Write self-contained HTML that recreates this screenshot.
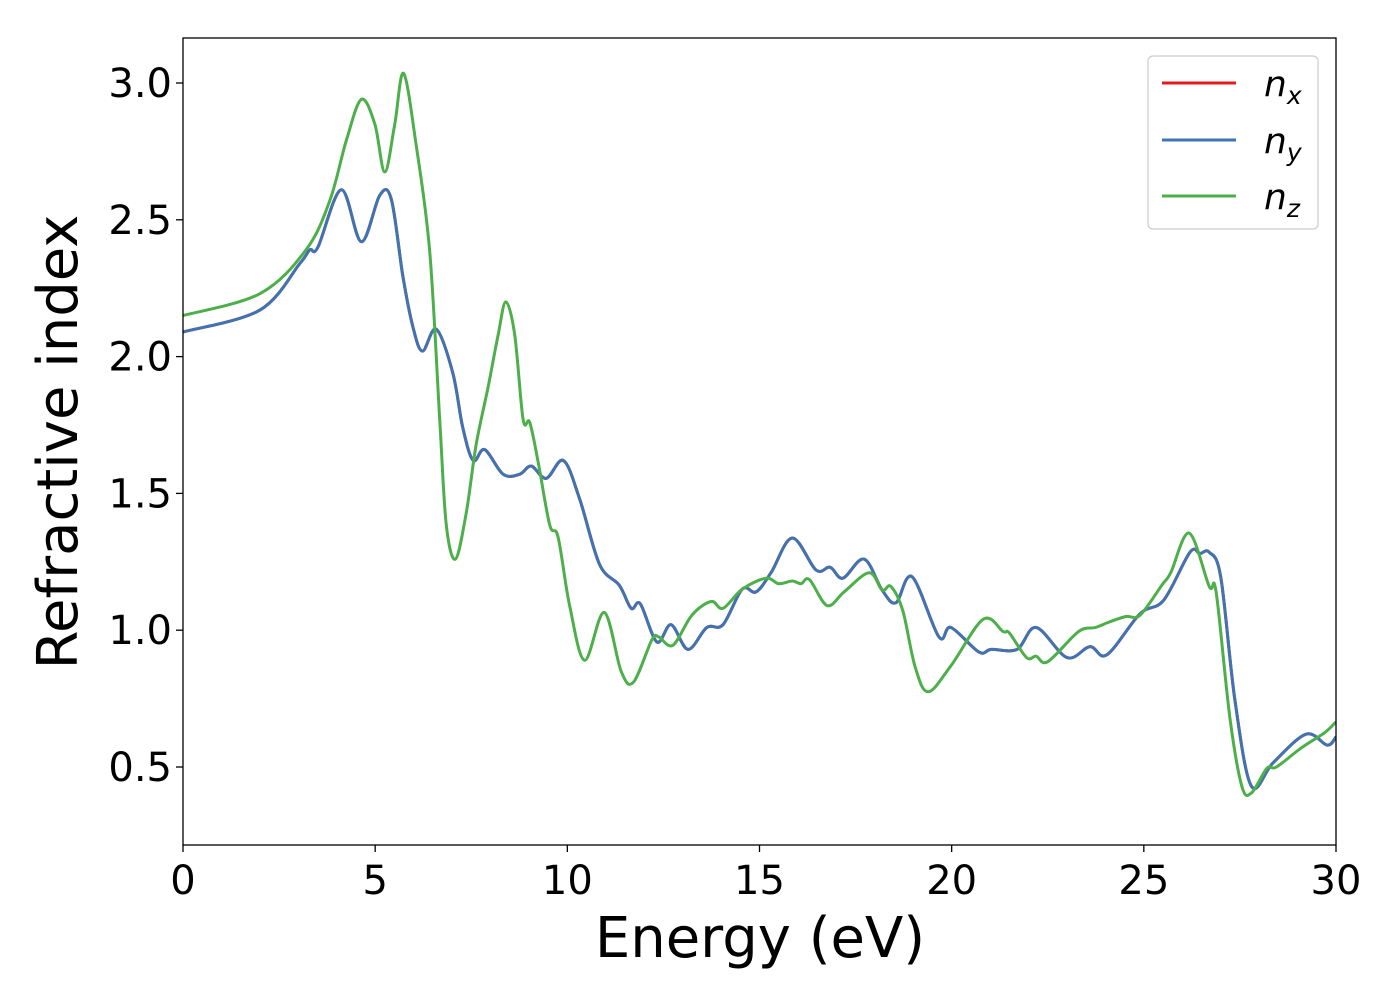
<!DOCTYPE html>
<html><head><meta charset="utf-8"><style>
html,body{margin:0;padding:0;background:#fff;}
svg{display:block;font-family:"DejaVu Sans","Liberation Sans",sans-serif;}
</style></head><body>
<svg id="chart" width="1400" height="1000" viewBox="0 0 1400 1000">
<rect x="0" y="0" width="1400" height="1000" fill="#fff"/>
<g id="series"></g>
<g id="axes"></g>
<text x="760" y="957" font-size="56" text-anchor="middle">Energy (eV)</text>
<text transform="translate(77,442) rotate(-90)" font-size="56" text-anchor="middle">Refractive index</text>
<g>
<rect x="1148" y="56" width="170" height="173" rx="5" fill="#fff" stroke="#ccc" stroke-width="1.2"/>
<g><line x1="1162" y1="83" x2="1236" y2="83" stroke="#e41a1c" stroke-width="3"/><text x="1264" y="96" font-size="36" font-style="italic">n<tspan font-size="25" dy="8">x</tspan></text></g>
<g><line x1="1162" y1="140" x2="1236" y2="140" stroke="#3f74b2" stroke-width="3"/><text x="1264" y="153" font-size="36" font-style="italic">n<tspan font-size="25" dy="8">y</tspan></text></g>
<g><line x1="1162" y1="196" x2="1236" y2="196" stroke="#4daf4a" stroke-width="3"/><text x="1264" y="209" font-size="36" font-style="italic">n<tspan font-size="25" dy="8">z</tspan></text></g>
</g>
</svg>
<script>
const xTicks=[0,5,10,15,20,25,30];
const yTicks=[0.5,1.0,1.5,2.0,2.5,3.0];
const yTickLabels=["0.5","1.0","1.5","2.0","2.5","3.0"];
const nxyE=[0,2,3.04,3.3,3.51,4.12,4.64,5.12,5.42,5.72,5.98,6.23,6.59,7.02,7.28,7.55,7.85,8.33,8.76,9.06,9.45,9.9,10.32,10.84,11.35,11.66,11.9,12.33,12.7,13.14,13.63,14.05,14.55,14.91,15.3,15.85,16.47,16.84,17.17,17.72,18.19,18.55,18.97,19.67,19.98,20.71,21.03,21.7,22.2,23.0,23.6,24.04,24.9,25.52,26.2,26.46,26.7,27.0,27.37,27.8,28.36,29.22,29.77,30];
const nxyV=[2.09,2.17,2.34,2.39,2.40,2.61,2.42,2.59,2.575,2.295,2.11,2.02,2.10,1.94,1.74,1.62,1.66,1.57,1.57,1.60,1.555,1.62,1.48,1.24,1.165,1.08,1.096,0.957,1.02,0.93,1.01,1.02,1.15,1.14,1.21,1.337,1.22,1.23,1.19,1.26,1.147,1.10,1.195,0.975,1.01,0.92,0.93,0.93,1.01,0.90,0.94,0.91,1.06,1.11,1.285,1.28,1.285,1.195,0.745,0.43,0.515,0.62,0.58,0.61];
const nzE=[0,2,3.2,3.82,4.25,4.64,4.99,5.25,5.51,5.74,6.07,6.42,6.68,6.85,7.09,7.37,7.63,7.94,8.2,8.4,8.63,8.85,9.02,9.24,9.54,9.76,10.06,10.45,10.96,11.4,11.72,12.2,12.38,12.75,13.24,13.74,14.05,14.55,15.17,15.5,15.85,16.08,16.3,16.76,17.2,17.85,18.19,18.42,18.73,19.05,19.39,19.98,20.82,21.34,21.5,21.95,22.2,22.5,23.3,23.74,24.1,24.53,24.9,25.47,25.7,26.18,26.7,26.88,27.24,27.55,27.8,28.2,28.45,29.1,29.7,30];
const nzV=[2.15,2.23,2.39,2.57,2.79,2.94,2.85,2.675,2.85,3.035,2.77,2.385,1.77,1.385,1.26,1.43,1.68,1.89,2.08,2.20,2.08,1.77,1.76,1.615,1.385,1.34,1.09,0.89,1.065,0.85,0.81,0.965,0.975,0.945,1.055,1.105,1.08,1.15,1.19,1.17,1.18,1.17,1.185,1.09,1.14,1.21,1.147,1.16,1.07,0.865,0.775,0.87,1.04,0.995,0.99,0.90,0.905,0.885,0.995,1.01,1.03,1.05,1.055,1.165,1.21,1.355,1.16,1.14,0.68,0.43,0.405,0.495,0.50,0.57,0.625,0.665];
const X0=183,X1=1336,Y0=38,Y1=845;
function sx(v){return X0+(v-0)/30*(X1-X0);}
function sy(v){return 83+(3.0-v)*273.6;}
const NS="http://www.w3.org/2000/svg";
function pathFrom(E,V){
  const p=E.map((e,i)=>[sx(e),sy(V[i])]);
  let d="M"+p[0][0].toFixed(1)+","+p[0][1].toFixed(1);
  for(let i=0;i<p.length-1;i++){
    const a=p[Math.max(0,i-1)],b=p[i],c=p[i+1],e=p[Math.min(p.length-1,i+2)];
    const c1=[b[0]+(c[0]-a[0])/6,b[1]+(c[1]-a[1])/6];
    const c2=[c[0]-(e[0]-b[0])/6,c[1]-(e[1]-b[1])/6];
    d+="C"+c1.map(v=>v.toFixed(1))+" "+c2.map(v=>v.toFixed(1))+" "+c[0].toFixed(1)+","+c[1].toFixed(1);
  }
  return d;
}
const ser=document.getElementById("series");
const cp=document.createElementNS(NS,"clipPath");cp.setAttribute("id","clip");
const cr=document.createElementNS(NS,"rect");cr.setAttribute("x",X0);cr.setAttribute("y",Y0);cr.setAttribute("width",X1-X0);cr.setAttribute("height",Y1-Y0);
cp.appendChild(cr);ser.appendChild(cp);
ser.setAttribute("clip-path","url(#clip)");
[["line-nx",nxyE,nxyV,"#e41a1c"],["line-ny",nxyE,nxyV,"#3f74b2"],["line-nz",nzE,nzV,"#4daf4a"]].forEach(s=>{
  const el=document.createElementNS(NS,"path");
  el.setAttribute("d",pathFrom(s[1],s[2]));
  el.setAttribute("fill","none");el.setAttribute("stroke",s[3]);el.setAttribute("stroke-width","3");
  el.setAttribute("stroke-linejoin","round");
  
  
  ser.appendChild(el);
});
const ax=document.getElementById("axes");
const fr=document.createElementNS(NS,"rect");
fr.setAttribute("x",X0);fr.setAttribute("y",Y0);fr.setAttribute("width",X1-X0);fr.setAttribute("height",Y1-Y0);
fr.setAttribute("fill","none");fr.setAttribute("stroke","#000");fr.setAttribute("stroke-width","1.3");


ax.appendChild(fr);
xTicks.forEach(t=>{
  const l=document.createElementNS(NS,"line");
  l.setAttribute("x1",sx(t));l.setAttribute("x2",sx(t));l.setAttribute("y1",Y1);l.setAttribute("y2",Y1+7);l.setAttribute("stroke","#000");l.setAttribute("stroke-width","1.3");
  
  
  ax.appendChild(l);
  const tx=document.createElementNS(NS,"text");
  tx.setAttribute("x",sx(t));tx.setAttribute("y",894);tx.setAttribute("font-size","40");tx.setAttribute("text-anchor","middle");
  tx.textContent=String(t);
  
  
  ax.appendChild(tx);
});
yTicks.forEach((t,i)=>{
  const l=document.createElementNS(NS,"line");
  l.setAttribute("x1",X0-7);l.setAttribute("x2",X0);l.setAttribute("y1",sy(t));l.setAttribute("y2",sy(t));l.setAttribute("stroke","#000");l.setAttribute("stroke-width","1.3");
  
  
  ax.appendChild(l);
  const tx=document.createElementNS(NS,"text");
  tx.setAttribute("x",172);tx.setAttribute("y",sy(t)+14);tx.setAttribute("font-size","40");tx.setAttribute("text-anchor","end");
  tx.textContent=yTickLabels[i];
  
  
  ax.appendChild(tx);
});
</script>
</body></html>
